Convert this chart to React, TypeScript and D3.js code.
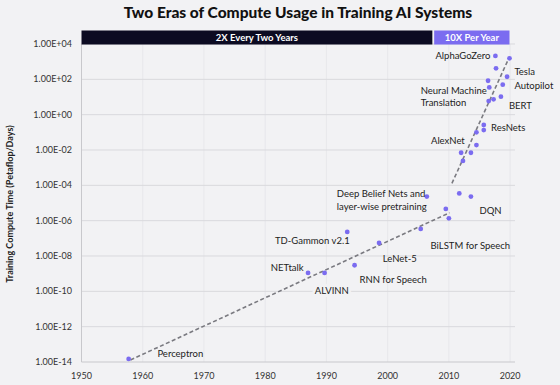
import * as d3 from "d3";

// Data: [year, petaflop/s-days]
const systems: [number, number][] = [
  [1957.7, 1.5e-14],
  [1987.0, 1.1e-9],
  [1989.7, 1.1e-9],
  [1993.4, 2.3e-7],
  [1994.6, 3.0e-9],
  [1998.6, 5.5e-8],
  [2005.4, 3.4e-7],
  [2006.4, 2.3e-5],
  [2009.5, 4.6e-6],
  [2010.0, 1.35e-6],
  [2011.7, 3.5e-5],
  [2013.6, 2.3e-5],
  [2012.0, 7.0e-3],
  [2013.6, 7.0e-3],
  [2012.3, 2.4e-3],
  [2014.5, 1.9e-2],
  [2014.5, 0.1],
  [2015.7, 0.26],
  [2015.7, 0.135],
  [2016.5, 5.9],
  [2017.3, 7.4],
  [2018.5, 10.5],
  [2016.6, 35],
  [2018.8, 50],
  [2016.4, 83],
  [2019.5, 140],
  [2017.7, 420],
  [2017.6, 2100],
  [2019.9, 1550],
];

const trendEra1: [number, number][] = [
  [1958, 1.3e-14],
  [2010.1, 2.8e-6],
];
const trendEra2: [number, number][] = [
  [2010.5, 1.3e-4],
  [2019.9, 1.9e3],
];

// annotation text anchored in data space: [text, year, value, anchor]
const labels: [string, number, number, string][] = [
  ["AlphaGoZero", 2016.8, 10 ** 3.32, "end"],
  ["Tesla", 2020.7, 10 ** 2.42, "start"],
  ["Autopilot", 2020.7, 10 ** 1.64, "start"],
  ["Neural Machine", 2005.4, 10 ** 1.36, "start"],
  ["Translation", 2005.4, 10 ** 0.66, "start"],
  ["BERT", 2019.8, 10 ** 0.51, "start"],
  ["ResNets", 2016.9, 10 ** -0.74, "start"],
  ["AlexNet", 2012.6, 10 ** -1.47, "end"],
  ["Deep Belief Nets and", 1991.7, 10 ** -4.49, "start"],
  ["layer-wise pretraining", 1991.7, 10 ** -5.21, "start"],
  ["DQN", 2015.0, 10 ** -5.43, "start"],
  ["TD-Gammon v2.1", 1981.6, 10 ** -7.15, "start"],
  ["BiLSTM for Speech", 2007.0, 10 ** -7.39, "start"],
  ["LeNet-5", 1999.2, 10 ** -8.18, "start"],
  ["NETtalk", 1980.9, 10 ** -8.69, "start"],
  ["RNN for Speech", 1995.4, 10 ** -9.32, "start"],
  ["ALVINN", 1988.1, 10 ** -9.98, "start"],
  ["Perceptron", 1962.4, 10 ** -13.53, "start"],
];

const eras: [string, number, number, string][] = [
  ["2X Every Two Years", 1950, 2007.3, "#0c0b22"],
  ["10X Per Year", 2007.6, 2019.9, "#7b6cf0"],
];

const yTicks = [1e4, 1e2, 1, 1e-2, 1e-4, 1e-6, 1e-8, 1e-10, 1e-12, 1e-14];
const xTicks = [1950, 1960, 1970, 1980, 1990, 2000, 2010, 2020];

const W = 560;
const H = 385;
const margin = { top: 44, right: 45, bottom: 23, left: 81.5 };
const bg = "#f2f2f4";

const fmtExp = (v: number) => {
  const e = Math.round(Math.log10(v));
  const s = e < 0 ? "-" : "+";
  return `1.00E${s}${String(Math.abs(e)).padStart(2, "0")}`;
};

export default function App() {
  const x = d3
    .scaleLinear()
    .domain([1950, 2020.8])
    .range([margin.left, W - margin.right]);
  const y = d3
    .scaleLog()
    .domain([1e-14, 1e4])
    .range([H - margin.bottom, margin.top]);

  const line = d3
    .line<[number, number]>()
    .x((d) => x(d[0]))
    .y((d) => y(d[1]));

  const font = "Lato, 'Open Sans', sans-serif";
  const purple = "#7b6cf0";

  return (
    <svg
      width={W}
      height={H}
      style={{ position: "absolute", left: 0, top: 0, fontFamily: font }}
    >
      <rect width={W} height={H} fill={bg} />

      <text
        x={298}
        y={18}
        textAnchor="middle"
        fontSize={15.5}
        fontWeight={900}
        fill="#111"
      >
        Two Eras of Compute Usage in Training AI Systems
      </text>

      {/* grid */}
      {xTicks.slice(1).map((t) => (
        <line
          key={"gx" + t}
          x1={x(t)}
          x2={x(t)}
          y1={y(1e4)}
          y2={y(1e-14)}
          stroke="#e4e4e8"
          strokeWidth={0.8}
        />
      ))}
      {yTicks.slice(0, -1).map((t) => (
        <line
          key={"gy" + t}
          x1={margin.left}
          x2={W - margin.right}
          y1={y(t)}
          y2={y(t)}
          stroke="#d9d9dd"
          strokeWidth={1}
        />
      ))}
      <line
        x1={margin.left}
        x2={margin.left}
        y1={y(1e4)}
        y2={y(1e-14)}
        stroke="#c8c8cc"
      />
      <line
        x1={margin.left}
        x2={W - margin.right}
        y1={y(1e-14)}
        y2={y(1e-14)}
        stroke="#c8c8cc"
      />

      {/* era banner */}
      {eras.map(([name, a, b, c]) => (
        <g key={name}>
          <rect
            x={x(a)}
            y={30.5}
            width={x(b) - x(a)}
            height={14}
            fill={c}
          />
          <text
            x={(x(a) + x(b)) / 2}
            y={41}
            textAnchor="middle"
            fontSize={9.5}
            fontWeight="bold"
            fill="#fff"
          >
            {name}
          </text>
        </g>
      ))}

      {/* axes labels */}
      {yTicks.map((t) => (
        <text
          key={"yl" + t}
          x={72}
          y={y(t) + 3}
          textAnchor="end"
          fontSize={9}
          fill="#333"
        >
          {fmtExp(t)}
        </text>
      ))}
      {xTicks.map((t) => (
        <text
          key={"xl" + t}
          x={x(t)}
          y={379}
          textAnchor="middle"
          fontSize={9}
          fill="#333"
        >
          {t}
        </text>
      ))}
      <text
        transform={`translate(13,${(y(1e4) + y(1e-14)) / 2 + 1}) rotate(-90)`}
        textAnchor="middle"
        fontSize={9}
        fontWeight="bold"
        fill="#222"
      >
        Training Compute Time (Petaflop/Days)
      </text>

      {/* trends */}
      {[trendEra1, trendEra2].map((d, i) => (
        <path
          key={"t" + i}
          d={line(d) ?? ""}
          fill="none"
          stroke="#7a7a80"
          strokeWidth={1.6}
          strokeDasharray="4 2.5"
        />
      ))}

      {/* points */}
      {systems.map((d, i) => (
        <circle
          key={"p" + i}
          cx={x(d[0])}
          cy={y(d[1])}
          r={2.4}
          fill={purple}
        />
      ))}

      {/* annotations */}
      {labels.map(([t, yr, v, anchor]) => (
        <text
          key={t}
          x={x(yr)}
          y={y(v) + 3.3}
          textAnchor={anchor}
          fontSize={9.5}
          fill="#222"
          stroke={t === "ALVINN" ? bg : "none"}
          strokeWidth={6}
          paintOrder="stroke"
        >
          {t}
        </text>
      ))}
    </svg>
  );
}
